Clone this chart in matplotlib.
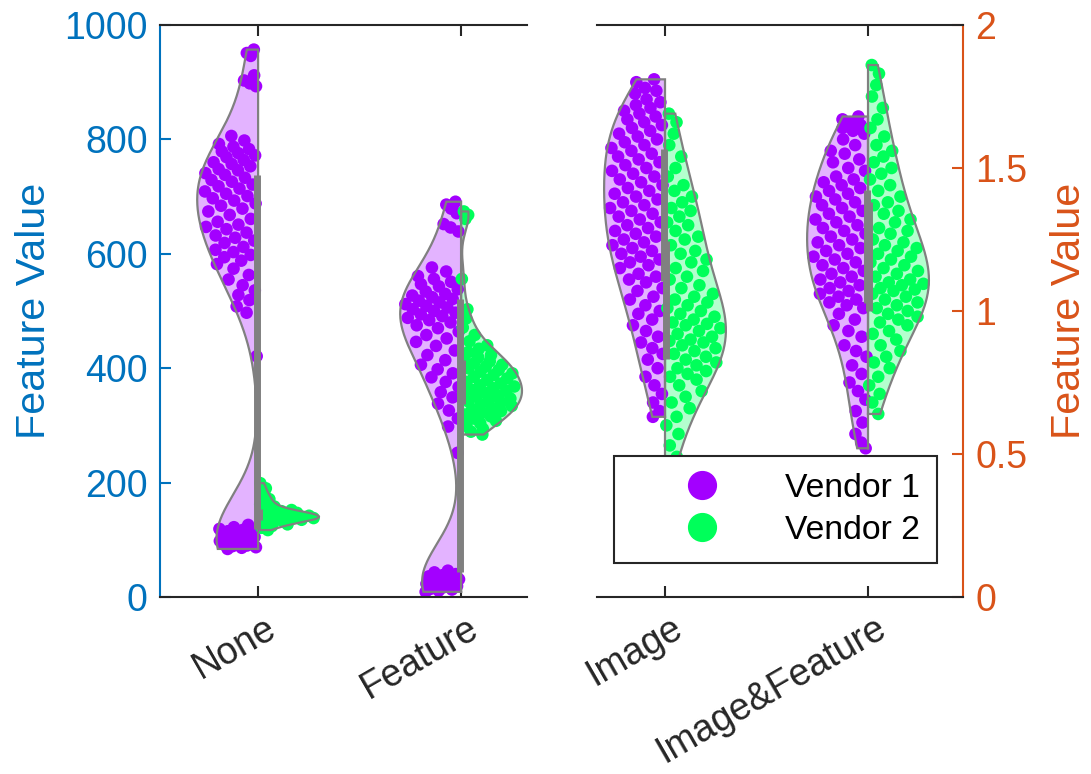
import numpy as np
import matplotlib
matplotlib.use("Agg")
import matplotlib.pyplot as plt
from matplotlib.lines import Line2D
import matplotlib.transforms as mtransforms

plt.rcParams['font.family'] = ['Liberation Sans', 'DejaVu Sans']

# ---------------- data ----------------
cats_left = ["None", "Feature"]
cats_right = ["Image", "Image&Feature"]
series_names = ["Vendor 1", "Vendor 2"]

none_v1 = [957, 951, 946, 912, 903, 898, 893,
           806, 798, 792, 787, 783, 779, 776, 772, 769, 764, 760, 757, 753, 748, 746, 741,
           738, 733, 729, 726, 721, 718, 714, 709, 705, 701, 697, 693, 688, 684, 679, 674,
           668, 661, 656, 651, 647, 643, 637, 632, 628, 623, 619, 612, 607, 603, 598, 594,
           588, 582, 574, 563, 555, 545, 536, 528, 519, 508, 497, 421,
           84, 86, 87, 89, 90, 92, 93, 94, 96, 97, 98, 99, 101, 102, 104, 105, 106, 107, 109,
           111, 113, 115, 117, 119, 122, 126]
none_v2 = [199, 190, 182, 176, 171, 166, 162, 158, 155, 152, 150, 148, 147, 146, 145, 144,
           143, 142, 141, 140, 140, 139, 138, 137, 136, 135, 134, 133, 131, 129, 127, 124,
           121, 117]
feat_v1 = [691, 686, 679, 671, 652, 646, 639,
           576, 569, 561, 556, 551, 547, 543, 538, 534, 530, 527, 524, 521, 518, 515, 512,
           509, 506, 503, 500, 497, 494, 491, 488, 484, 480, 475, 470, 464, 458, 452, 446,
           439, 431, 423, 414, 406, 398, 391, 384, 376, 367, 358, 349, 338, 326, 312, 298,
           252,
           9, 11, 13, 14, 17, 19, 21, 22, 23, 25, 27, 28, 30, 31, 33, 35, 36, 38, 40, 43, 46]
feat_v2 = [674, 668, 661, 556, 503, 487, 471, 458, 447, 440, 434, 428, 423, 419, 415, 412,
           409, 406, 403, 400, 397, 394, 391, 388, 385, 382, 379, 376, 373, 370, 368, 365,
           362, 360, 357, 355, 352, 350, 347, 345, 342, 340, 337, 334, 331, 328, 325, 322,
           319, 316, 312, 308, 304, 299, 294, 289, 284]
img_v1 = [1.81, 1.80, 1.78, 1.77, 1.76, 1.74, 1.73, 1.72, 1.71, 1.70, 1.69, 1.68, 1.67,
          1.66, 1.65, 1.64, 1.63, 1.62, 1.61, 1.60, 1.59, 1.58, 1.57, 1.56, 1.55, 1.54,
          1.53, 1.52, 1.51, 1.50, 1.49, 1.48, 1.47, 1.46, 1.45, 1.44, 1.43, 1.42, 1.41,
          1.40, 1.39, 1.38, 1.37, 1.36, 1.35, 1.34, 1.33, 1.32, 1.31, 1.30, 1.29, 1.28,
          1.27, 1.26, 1.25, 1.24, 1.23, 1.22, 1.21, 1.20, 1.19, 1.18, 1.17, 1.16, 1.15,
          1.13, 1.12, 1.11, 1.10, 1.08, 1.07, 1.05, 1.04, 1.02, 1.00, 0.99, 0.97, 0.95,
          0.93, 0.91, 0.89, 0.87, 0.85, 0.83, 0.80, 0.77, 0.74, 0.71, 0.68, 0.65, 0.63]
img_v2 = [1.69, 1.66, 1.62, 1.58, 1.54, 1.50, 1.47, 1.44, 1.42, 1.40, 1.38, 1.36, 1.35,
          1.33, 1.31, 1.30, 1.28, 1.26, 1.25, 1.23, 1.21, 1.20, 1.18, 1.17, 1.15, 1.14,
          1.12, 1.11, 1.09, 1.08, 1.06, 1.05, 1.04, 1.03, 1.02, 1.01, 1.00, 0.99, 0.98,
          0.97, 0.96, 0.955, 0.95, 0.94, 0.93, 0.92, 0.91, 0.90, 0.895, 0.89, 0.88, 0.87,
          0.86, 0.85, 0.84, 0.83, 0.82, 0.81, 0.80, 0.79, 0.78, 0.77, 0.76, 0.74, 0.72,
          0.70, 0.68, 0.66, 0.63, 0.60, 0.57, 0.53, 0.49, 0.45]
imf_v1 = [1.68, 1.67, 1.66, 1.65, 1.64, 1.63, 1.62, 1.60, 1.58, 1.56, 1.55, 1.53, 1.52,
          1.50, 1.49, 1.47, 1.46, 1.45, 1.44, 1.43, 1.42, 1.41, 1.40, 1.39, 1.38, 1.37,
          1.36, 1.35, 1.34, 1.33, 1.32, 1.31, 1.30, 1.29, 1.28, 1.27, 1.26, 1.25, 1.24,
          1.23, 1.22, 1.21, 1.20, 1.19, 1.18, 1.17, 1.16, 1.15, 1.14, 1.13, 1.12, 1.11,
          1.10, 1.09, 1.08, 1.07, 1.06, 1.05, 1.04, 1.03, 1.02, 1.01, 0.99, 0.97, 0.95,
          0.93, 0.91, 0.88, 0.86, 0.84, 0.81, 0.78, 0.75, 0.72, 0.69, 0.65, 0.61, 0.57,
          0.54, 0.52]
imf_v2 = [1.86, 1.83, 1.79, 1.75, 1.71, 1.67, 1.64, 1.61, 1.58, 1.56, 1.54, 1.52, 1.50,
          1.48, 1.46, 1.44, 1.42, 1.40, 1.38, 1.37, 1.35, 1.34, 1.32, 1.31, 1.29, 1.28,
          1.27, 1.25, 1.24, 1.23, 1.22, 1.21, 1.20, 1.19, 1.18, 1.17, 1.16, 1.15, 1.14,
          1.13, 1.12, 1.11, 1.10, 1.095, 1.09, 1.08, 1.075, 1.07, 1.06, 1.05, 1.04, 1.03,
          1.02, 1.01, 1.00, 0.99, 0.98, 0.97, 0.96, 0.95, 0.93, 0.92, 0.90, 0.88, 0.86,
          0.84, 0.82, 0.80, 0.77, 0.74, 0.71, 0.68, 0.64]

# kernel bandwidths (None -> Silverman/MAD rule as in ksdensity)
bw_left = [(75, None), (None, None)]
bw_right = [(None, None), (None, None)]

left_ticks = [0, 200, 400, 600, 800, 1000]
right_ticks = [0, 0.5, 1, 1.5, 2]
right_ticklabels = ["0", "0.5", "1", "1.5", "2"]

# ---------------- style ----------------
C_V1 = "#A300FF"
C_V2 = "#00FF5A"
FILL_V1 = "#E3B3FF"
FILL_V2 = "#B3FFCE"
GRAY = "#808080"
BLUE = "#0072BD"
ORANGE = "#D95319"
DARK = "#262626"
HALF_W = 0.3
TICK_FS = 27
LABEL_FS = 29.7
LEG_FS = 24.3


def kde(d, grid, h=None):
    n = len(d)
    if h is None:
        med = np.median(d)
        sig = np.median(np.abs(d - med)) / 0.6745
        h = sig * (4.0 / (3.0 * n)) ** 0.2
    return np.exp(-0.5 * ((grid[:, None] - d[None, :]) / h) ** 2).sum(axis=1)


def half_violin(ax, pos, data, side, color, fill, h=None):
    d = np.asarray(data, float)
    y = np.linspace(d.min(), d.max(), 400)
    dens = kde(d, y, h)
    w = dens / dens.max() * HALF_W
    xv = np.concatenate([[pos], pos + side * w, [pos], [pos]])
    yv = np.concatenate([[y[0]], y, [y[-1]], [y[0]]])
    ax.fill(xv, yv, facecolor=fill, edgecolor="none", zorder=1)
    k = np.arange(len(d))
    u = (0.37 + k * 0.6180339887) % 1.0
    u = 0.04 + 0.92 * u
    wi = np.interp(d, y, w)
    ax.scatter(pos + side * u * wi, d, s=82, color=color, edgecolors="none", zorder=2)
    ax.plot(xv, yv, color=GRAY, lw=1.6, zorder=3, solid_joinstyle="miter")
    q1, q3 = np.percentile(d, [25, 75])
    ax.plot([pos + side * 0.006] * 2, [q1, q3], color=GRAY, lw=5,
            solid_capstyle="butt", zorder=4)


fig = plt.figure(figsize=(10.91, 7.74), dpi=100)
axL = fig.add_axes([0.1467, 0.2287, 0.3364, 0.739])
axR = fig.add_axes([0.5472, 0.2287, 0.3355, 0.739])

for ax, base, groups, bws in [(axL, 1, [(none_v1, none_v2), (feat_v1, feat_v2)], bw_left),
                              (axR, 3, [(img_v1, img_v2), (imf_v1, imf_v2)], bw_right)]:
    for i, ((g1, g2), (h1, h2)) in enumerate(zip(groups, bws)):
        half_violin(ax, base + i, g1, -1, C_V1, FILL_V1, h1)
        half_violin(ax, base + i, g2, +1, C_V2, FILL_V2, h2)

# left axes
axL.set_xlim(0.517, 2.325)
axL.set_ylim(0, 1000)
axL.set_yticks(left_ticks)
axL.set_xticks([1, 2])
axL.set_xticklabels(cats_left)
axL.spines["right"].set_visible(False)
axL.spines["left"].set_color(BLUE)
for s in ["top", "bottom"]:
    axL.spines[s].set_color(DARK)
for s in axL.spines.values():
    s.set_linewidth(1.5)
axL.tick_params(axis="y", direction="in", length=8, width=1.5, colors=BLUE,
                labelsize=TICK_FS, pad=9, left=True, right=False)
axL.set_ylabel("Feature Value", fontsize=LABEL_FS, color=BLUE, labelpad=8)

# right axes
axR.set_xlim(2.665, 4.468)
axR.set_ylim(0, 2)
axR.yaxis.tick_right()
axR.yaxis.set_label_position("right")
axR.set_yticks(right_ticks)
axR.set_yticklabels(right_ticklabels)
axR.set_xticks([3, 4])
axR.set_xticklabels(cats_right)
axR.spines["left"].set_visible(False)
axR.spines["right"].set_color(ORANGE)
for s in ["top", "bottom"]:
    axR.spines[s].set_color(DARK)
for s in axR.spines.values():
    s.set_linewidth(1.5)
axR.tick_params(axis="y", direction="in", length=8, width=1.5, colors=ORANGE,
                labelsize=TICK_FS, pad=9, left=False, right=True)
axR.set_ylabel("Feature Value", fontsize=LABEL_FS, color=ORANGE, labelpad=16)

for ax in (axL, axR):
    ax.tick_params(axis="x", direction="in", length=8, width=1.5, colors=DARK,
                   labelsize=TICK_FS, top=True, bottom=True, pad=6)
    offset = mtransforms.ScaledTranslation(15 / 100, -20 / 100, fig.dpi_scale_trans)
    for lab in ax.get_xticklabels():
        lab.set_rotation(30)
        lab.set_ha("right")
        lab.set_va("center")
        lab.set_rotation_mode("anchor")
        lab.set_color(DARK)
        lab.set_transform(lab.get_transform() + offset)

handles = [Line2D([], [], marker="o", ls="none", color=C_V1, markersize=20),
           Line2D([], [], marker="o", ls="none", color=C_V2, markersize=20)]
leg = axR.legend(handles, series_names, loc="lower right",
                 bbox_to_anchor=(0.929, 0.0594), fontsize=LEG_FS, frameon=True,
                 fancybox=False, edgecolor=DARK, framealpha=1, borderaxespad=0,
                 handlelength=4.2, handletextpad=0.36, borderpad=0.5, labelspacing=0.33)
leg.get_frame().set_linewidth(1.5)
leg.set_zorder(10)

fig.savefig("out.png", dpi=100)
